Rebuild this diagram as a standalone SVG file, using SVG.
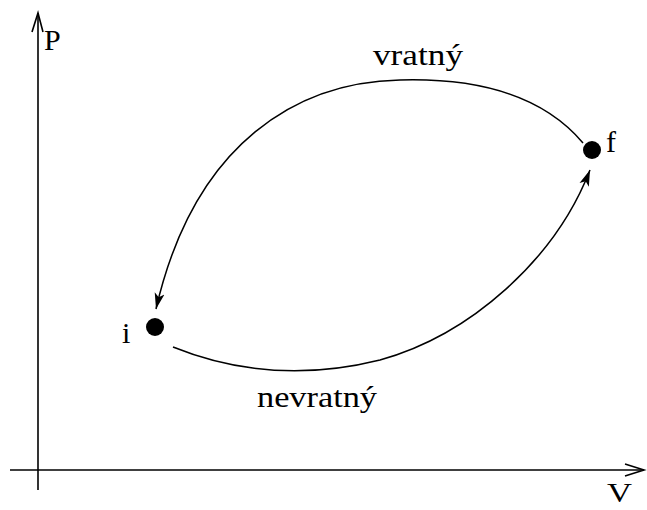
<svg xmlns="http://www.w3.org/2000/svg" width="647" height="510" viewBox="0 0 647 510">
<style>
.ax{stroke:#000;stroke-width:1.6;fill:none}
.cv{stroke:#000;stroke-width:1.5;fill:none}
.lbl{font-family:"Liberation Serif","Times New Roman",serif;font-size:30px;fill:#000}
.dot{fill:#000}
</style>
<defs>
<marker id="ah" markerUnits="userSpaceOnUse" markerWidth="20" markerHeight="14" refX="16" refY="6" orient="auto">
<path d="M0,1 L16,6 L0,11 L4,6 Z" fill="#000"/>
</marker>
</defs>
<rect width="647" height="510" fill="#fff"/>
<g id="axes">
<path class="ax" d="M38,490 L38,13"/>
<path class="ax" d="M32,32 L38,13 L43,32"/>
<path class="ax" d="M10,470 L644,470"/>
<path class="ax" d="M625,464 L644,470 L625,476"/>
<text class="lbl" x="44" y="50">P</text>
<text class="lbl" x="607" y="502" style="font-size:28px" textLength="25" lengthAdjust="spacingAndGlyphs">V</text>
</g>
<g id="node-i">
<circle class="dot" cx="155" cy="327" r="9"/>
<text class="lbl" x="122" y="343">i</text>
</g>
<g id="node-f">
<circle class="dot" cx="592" cy="150" r="9"/>
<text class="lbl" x="606" y="152">f</text>
</g>
<g id="connectors">
<path class="cv" d="M583,143 C540,92 470,78 400,80 C300,82 195,140 156,309" marker-end="url(#ah)"/>
<path class="cv" d="M173,347 C230,370 300,380 380,360 C470,335 555,260 590,170" marker-end="url(#ah)"/>
<text class="lbl" x="373" y="65" textLength="90" lengthAdjust="spacingAndGlyphs">vratný</text>
<text class="lbl" x="257" y="407" textLength="120" lengthAdjust="spacingAndGlyphs">nevratný</text>
</g>
</svg>
